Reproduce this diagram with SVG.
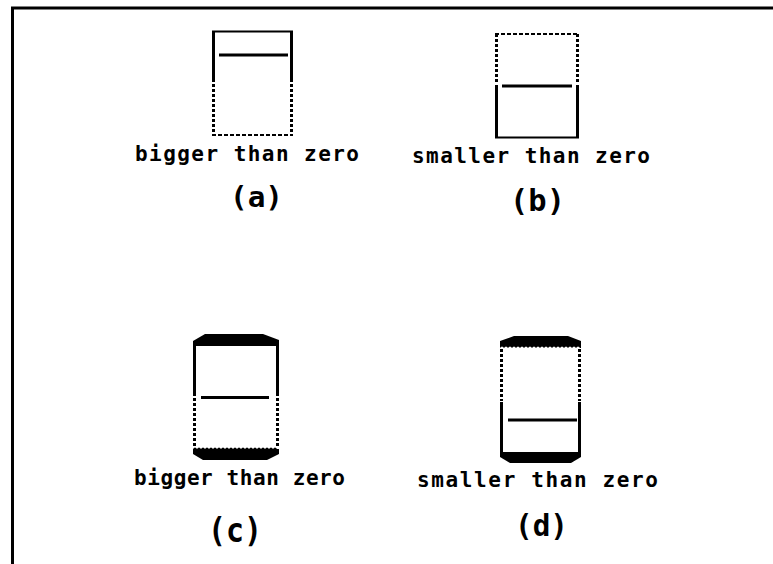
<svg xmlns="http://www.w3.org/2000/svg" width="773" height="564" viewBox="0 0 773 564">
<style>
.frame{stroke:#000;stroke-width:3;fill:none}
.side{stroke:#000;stroke-width:3;fill:none}
.dot{stroke:#000;stroke-width:3;fill:none;stroke-dasharray:3 2}
.edge{stroke:#000;stroke-width:2;fill:none}
.dash{stroke:#000;stroke-width:2;fill:none;stroke-dasharray:4 2}
.bar{stroke:#000;stroke-width:3;fill:none}
.cap{fill:#000;stroke:none}
.cap-txt{font-family:"DejaVu Sans Mono","Liberation Mono",monospace;font-size:21px;font-weight:bold;fill:#000}
.lbl{font-family:"DejaVu Sans Mono","Liberation Mono",monospace;font-weight:bold;fill:#000}
</style>
<rect width="773" height="564" fill="#fff"/>
<g id="frame">
<line class="frame" x1="11" y1="8" x2="773" y2="8"/>
<line class="frame" x1="12.5" y1="7" x2="12.5" y2="564"/>
</g>
<g id="fig-a">
<line class="edge" x1="212" y1="31.5" x2="293" y2="31.5"/>
<line class="side" x1="213.5" y1="31" x2="213.5" y2="82"/>
<line class="side" x1="291.5" y1="31" x2="291.5" y2="82"/>
<line class="dot" x1="213.5" y1="84" x2="213.5" y2="135"/>
<line class="dot" x1="291.5" y1="84" x2="291.5" y2="135"/>
<line class="dash" x1="212" y1="135" x2="293" y2="135"/>
<line class="bar" x1="219" y1="55" x2="288" y2="55"/>
<text class="cap-txt" x="135" y="161" textLength="224" lengthAdjust="spacing">bigger than zero</text>
<text class="lbl" x="230" y="207" font-size="29" textLength="53" lengthAdjust="spacingAndGlyphs">(a)</text>
</g>
<g id="fig-b">
<line class="dash" x1="495" y1="34" x2="579" y2="34"/>
<line class="dot" x1="496.5" y1="34" x2="496.5" y2="84"/>
<line class="dot" x1="577.5" y1="34" x2="577.5" y2="84"/>
<line class="side" x1="496.5" y1="85" x2="496.5" y2="138"/>
<line class="side" x1="577.5" y1="85" x2="577.5" y2="138"/>
<line class="edge" x1="495" y1="137.5" x2="579" y2="137.5"/>
<line class="bar" x1="502" y1="86" x2="572" y2="86"/>
<text class="cap-txt" x="412" y="163" textLength="238" lengthAdjust="spacing">smaller than zero</text>
<text class="lbl" x="510" y="211" font-size="30" textLength="55" lengthAdjust="spacingAndGlyphs">(b)</text>
</g>
<g id="fig-c">
<path class="cap" d="M193,346 L193,341 L205,334 L263,334 L279,340 L279,346 Z"/>
<line class="side" x1="194.5" y1="345" x2="194.5" y2="396"/>
<line class="side" x1="277.5" y1="345" x2="277.5" y2="396"/>
<line class="dot" x1="194.5" y1="398" x2="194.5" y2="448"/>
<line class="dot" x1="277.5" y1="398" x2="277.5" y2="448"/>
<line class="bar" x1="201" y1="397.5" x2="269" y2="397.5"/>
<path class="cap" d="M193,449 q2,-3 4,0 q2,-3 4,0 q2,-3 4,0 q2,-3 4,0 q2,-3 4,0 q2,-3 4,0 q2,-3 4,0 q2,-3 4,0 q2,-3 4,0 q2,-3 4,0 q2,-3 4,0 q2,-3 4,0 q2,-3 4,0 q2,-3 4,0 q2,-3 4,0 q2,-3 4,0 q2,-3 4,0 q2,-3 4,0 q2,-3 4,0 q2,-3 4,0 q2,-3 4,0 L279,449 L279,454 L267,460 L203,460 L193,454 Z"/>
<text class="cap-txt" x="134" y="485" textLength="211" lengthAdjust="spacing">bigger than zero</text>
<text class="lbl" x="208" y="542" font-size="33" textLength="54" lengthAdjust="spacingAndGlyphs">(c)</text>
</g>
<g id="fig-d">
<path class="cap" d="M500,348 q2,-3 4,0 q2,-3 4,0 q2,-3 4,0 q2,-3 4,0 q2,-3 4,0 q2,-3 4,0 q2,-3 4,0 q2,-3 4,0 q2,-3 4,0 q2,-3 4,0 q2,-3 4,0 q2,-3 4,0 q2,-3 4,0 q2,-3 4,0 q2,-3 4,0 q2,-3 4,0 q2,-3 4,0 q2,-3 4,0 q2,-3 4,0 q2,-3 4,0 L581,348 L581,341 L568,336 L514,336 L500,341 Z"/>
<line class="dot" x1="501.5" y1="349" x2="501.5" y2="401"/>
<line class="dot" x1="579.5" y1="349" x2="579.5" y2="401"/>
<line class="side" x1="501.5" y1="402" x2="501.5" y2="453"/>
<line class="side" x1="579.5" y1="402" x2="579.5" y2="453"/>
<line class="bar" x1="508" y1="420" x2="577" y2="420"/>
<path class="cap" d="M500,452 L581,452 L581,457 L571,463 L510,463 L500,457 Z"/>
<text class="cap-txt" x="417" y="487" textLength="241" lengthAdjust="spacing">smaller than zero</text>
<text class="lbl" x="515" y="536" font-size="31" textLength="53" lengthAdjust="spacingAndGlyphs">(d)</text>
</g>
<g id="connectors"></g>
</svg>
